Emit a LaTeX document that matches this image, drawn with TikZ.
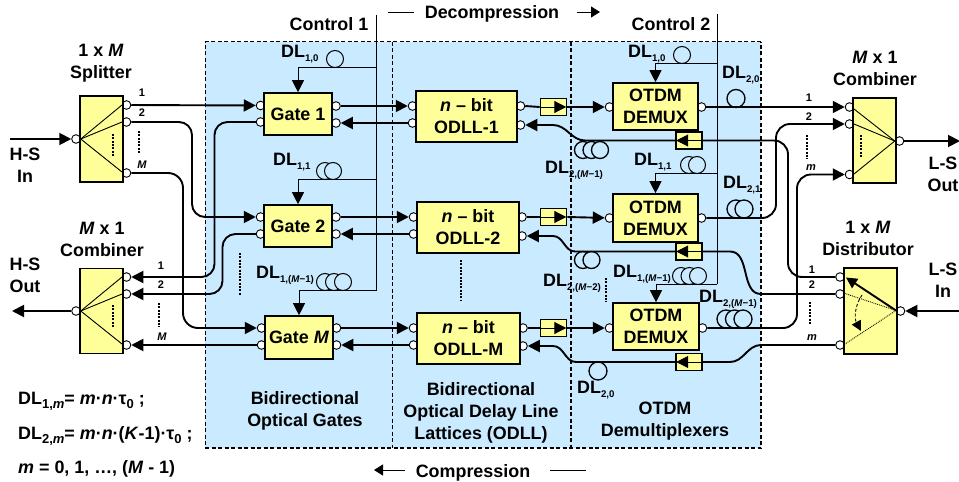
\documentclass[tikz,border=0pt]{standalone}
\usepackage{fontspec}
\setmainfont{Liberation Sans}
\usepackage{tikz}
\usetikzlibrary{arrows.meta}

\definecolor{regionblue}{HTML}{C9EAFF}
\definecolor{boxyellow}{HTML}{FFFF99}
\newcommand{\dlab}[1]{DL\raisebox{-4pt}{\fontsize{9.7}{9.7}\selectfont #1}}
\newcommand{\dlbig}[1]{DL\raisebox{-4pt}{\fontsize{13}{13}\selectfont #1}}
\tikzset{
    big/.style={font=\fontsize{17.9}{22}\selectfont\bfseries,inner sep=0pt,align=center},
    tiny/.style={font=\fontsize{11}{11}\selectfont\bfseries,inner sep=0pt},
    box/.style={draw,line width=1.6pt,fill=boxyellow,big},
    port/.style={draw,circle,fill=white,line width=0.9pt,minimum size=8.6pt,inner sep=0pt},
    isobox/.style={draw,line width=1.6pt,fill=boxyellow,minimum width=26pt,minimum height=17pt,inner sep=0pt},
    conn/.style={line width=1.9pt},
    tip/.style={-{Triangle[length=12pt,width=12pt]}},
    ctl/.style={line width=0.9pt},
    coil/.style={draw=black,fill=regionblue,line width=1.3pt},
    fan/.style={line width=0.9pt},
    dots/.style={line width=2pt,dash pattern=on 2pt off 1.3pt},
    thindots/.style={line width=1.3pt,dash pattern=on 2pt off 1.3pt},
    edge/.style={line width=1pt,dash pattern=on 4pt off 2.5pt},
}

\begin{document}
\begin{tikzpicture}[x=1pt,y=-1pt]
    \useasboundingbox (0,0) rectangle (959,482);

    \fill[regionblue] (205,41.5) rectangle (761,448);
    \draw[edge] (392,41.5)--(392,448);
    \draw[edge,line width=1.4pt] (571,41.5)--(571,448);
    \draw[edge] (761,41.5)--(205,41.5)--(205,448);
    \draw[edge,line width=1.4pt] (205,448)--(761,448)--(761,41.5);

    \coordinate (topA) at (376.5,15);
    \coordinate (midA) at (376.5,67.5);
    \coordinate (midB) at (376.5,179);
    \coordinate (midC) at (376.5,290);
    \coordinate (topB) at (717,14);
    \coordinate (midD) at (717,63);
    \coordinate (midE) at (717,173);
    \coordinate (midF) at (717,284);

    \draw[coil,line width=1pt] (335,59) circle (8.5);
    \draw[coil,line width=1pt] (325,171) circle (8.5);
    \draw[coil,line width=1pt] (333,171) circle (8.5);
    \draw[coil,line width=1pt] (325,282) circle (8.5);
    \draw[coil,line width=1pt] (334,282) circle (8.5);
    \draw[coil,line width=1pt] (343,282) circle (8.5);
    \draw[coil,line width=1pt] (682,55) circle (8.5);
    \draw[coil,line width=1pt] (689,165) circle (8.5);
    \draw[coil,line width=1pt] (697,165) circle (8.5);
    \draw[coil,line width=1pt] (681,276) circle (8.5);
    \draw[coil,line width=1pt] (689.5,276) circle (8.5);
    \draw[coil,line width=1pt] (698,276) circle (8.5);
    \draw[coil] (583,150) circle (8.5);
    \draw[coil] (591.5,150) circle (8.5);
    \draw[coil] (600,150) circle (8.5);
    \draw[coil] (583,260) circle (8.5);
    \draw[coil] (591.5,260) circle (8.5);
    \draw[coil] (598,371) circle (9);
    \draw[coil] (736,98.5) circle (9);
    \draw[coil] (736,209) circle (9);
    \draw[coil] (744,209) circle (9);
    \draw[coil] (726,319) circle (9);
    \draw[coil] (734.5,319) circle (9);
    \draw[coil] (743,319) circle (9);

    % ports go under the boxes
    \node[port] (spin) at (76,139) {};
    \node[port] (spa) at (126.5,105) {};
    \node[port] (spb) at (126.5,122) {};
    \node[port] (spm) at (126.5,173) {};
    \node[port] (cbout) at (76,311) {};
    \node[port] (cba) at (126.5,277) {};
    \node[port] (cbb) at (126.5,294) {};
    \node[port] (cbm) at (126.5,345) {};
    \node[port] (gaa) at (260.5,105.5) {};
    \node[port] (gab) at (260.5,122) {};
    \node[port] (gac) at (336,106) {};
    \node[port] (gad) at (336,123) {};
    \node[port] (gba) at (260.5,217) {};
    \node[port] (gbb) at (260.5,234) {};
    \node[port] (gbc) at (336,217) {};
    \node[port] (gbd) at (336,234) {};
    \node[port] (gma) at (261.5,328) {};
    \node[port] (gmb) at (261.5,345) {};
    \node[port] (gmc) at (336.5,328) {};
    \node[port] (gmd) at (336.5,345) {};
    \node[port] (oaa) at (412.5,106) {};
    \node[port] (oab) at (412.5,123) {};
    \node[port] (oac) at (520.5,106) {};
    \node[port] (oad) at (520.5,125) {};
    \node[port] (oba) at (413.5,217) {};
    \node[port] (obb) at (413.5,234) {};
    \node[port] (obc) at (522,217) {};
    \node[port] (obd) at (522,236) {};
    \node[port] (oma) at (413.5,328) {};
    \node[port] (omb) at (413.5,345) {};
    \node[port] (omc) at (523,328) {};
    \node[port] (omd) at (523,346) {};
    \node[port] (daa) at (609.5,107) {};
    \node[port] (dab) at (701.5,107) {};
    \node[port] (dba) at (609.5,218) {};
    \node[port] (dbb) at (701.5,218) {};
    \node[port] (dma) at (609.5,328) {};
    \node[port] (dmb) at (702.5,328) {};
    \node[port] (mxa) at (849.5,107) {};
    \node[port] (mxb) at (849.5,124) {};
    \node[port] (mxm) at (849.5,174.5) {};
    \node[port] (mxout) at (899.5,141) {};
    \node[port] (dsa) at (840,277) {};
    \node[port] (dsb) at (840,294) {};
    \node[port] (dsm) at (840,345) {};
    \node[port] (dsin) at (900.5,311) {};

    \node[box,minimum width=43pt,minimum height=86pt] (splitter) at (101.5,139) {};
    \node[box,minimum width=43pt,minimum height=85pt] (leftmix) at (101.5,311) {};
    \node[box,minimum width=43pt,minimum height=85pt] (rightmix) at (874.5,140.5) {};
    \node[box,minimum width=53pt,minimum height=86pt] (distrib) at (870.5,311) {};

    \node[box,minimum width=68pt,minimum height=42pt] (gate1) at (298,114) {Gate 1};
    \node[box,minimum width=68pt,minimum height=42pt] (gate2) at (298,226) {Gate 2};
    \node[box,minimum width=68pt,minimum height=43pt] (gatem) at (299,337.5) {Gate \textit{M}};
    \node[box,minimum width=101pt,minimum height=51pt] (odll1) at (466.5,116.5) {\textit{n} – bit\\ODLL-1};
    \node[box,minimum width=102pt,minimum height=51pt] (odll2) at (468,227.5) {\textit{n} – bit\\ODLL-2};
    \node[box,minimum width=103pt,minimum height=51pt] (odllm) at (468.5,338.5) {\textit{n} – bit\\ODLL-M};
    \node[box,minimum width=85pt,minimum height=47pt] (demux1) at (655.5,106.5) {OTDM\\DEMUX};
    \node[box,minimum width=85pt,minimum height=48pt] (demux2) at (655.5,218) {OTDM\\DEMUX};
    \node[box,minimum width=86pt,minimum height=47pt] (demuxm) at (656,326.5) {OTDM\\DEMUX};

    \node[isobox] (isoa) at (553.5,107) {};
    \node[isobox] (isob) at (553.5,217) {};
    \node[isobox] (isoc) at (553.5,328) {};
    \node[isobox] (isod) at (689,140.5) {};
    \node[isobox] (isoe) at (689,251.5) {};
    \node[isobox] (isof) at (689,362) {};

    % control lines
    \draw[ctl] (topA)--(midC);
    \draw[ctl,tip] (midC) -| (gatem.north);
    \draw[ctl,tip] (midA) -| (gate1.north);
    \draw[ctl,tip] (midB) -| (gate2.north);
    \draw[ctl] (topB)--(midF);
    \draw[ctl,tip] (midD) -| (demux1.north);
    \draw[ctl,tip] (midE) -| (demux2.north);
    \draw[ctl,tip] (midF) -| (demuxm.north);

    % fans inside splitter and combiners
    \draw[fan] (spin.east)--(122,105);
    \draw[fan] (spin.east)--(122,122);
    \draw[fan] (spin.east)--(122,172);
    \draw[fan] (cbout.east)--(122,277);
    \draw[fan] (cbout.east)--(122,294);
    \draw[fan] (cbout.east)--(122,344);
    \draw[fan] (mxout.west)--(854,109);
    \draw[fan] (mxout.west)--(854,124);
    \draw[fan] (mxout.west)--(854,174);
    \draw[conn,-{Triangle[length=11pt,width=11pt]}] (896,310.5)--(846,277.5);
    \draw[fan,densely dotted] (896,310.5)--(845,293.5);
    \draw[fan,densely dotted] (896,310.5)--(845,344);
    \draw[ctl,densely dashed,-{Triangle[length=10pt,width=10pt]}] (862,295) .. controls (855,305) and (854,318) .. (861,331);

    \draw[thindots] (113,134)--(113,157);
    \draw[thindots] (113,305)--(113,328);
    \draw[thindots] (861,135)--(861,158);
    \draw[dots] (138.5,131)--(138.5,154);
    \draw[dots] (158.5,303)--(158.5,327);
    \draw[dots] (809.5,302)--(809.5,325);
    \draw[thindots] (240,253)--(240,295);
    \draw[dots] (460.5,260)--(460.5,300);
    \draw[dots] (606,278)--(606,302);
    \draw[thindots] (807,135)--(807,159);

    % free ends and bends
    \coordinate (hsin) at (10,139);
    \coordinate (hsout) at (12,311);
    \coordinate (lsout) at (960,141);
    \coordinate (lsin) at (959,311);
    \coordinate (bendA) at (192,170);
    \coordinate (bendB) at (183,250);
    \coordinate (bendC) at (214.5,200);
    \coordinate (bendD) at (222.5,265);
    \coordinate (bendE) at (776,170);
    \coordinate (bendF) at (797,250);
    \coordinate (bendG) at (788,210);
    \coordinate (curveA) at (585,140.5);
    \coordinate (curveB) at (553,125);
    \coordinate (curveC) at (575,251.5);
    \coordinate (curveD) at (553,236);
    \coordinate (curveE) at (576,362);
    \coordinate (curveF) at (553,346);
    \coordinate (curveG) at (761,294);
    \coordinate (curveH) at (730,251.5);
    \coordinate (curveI) at (761,345);
    \coordinate (curveJ) at (730,362);

    \draw[conn,tip] (hsin)--(spin);
    \draw[conn,tip] (cbout)--(hsout);
    \draw[conn,tip] (mxout)--(lsout);
    \draw[conn,tip] (lsin)--(dsin);

    \draw[conn,tip] (spa)--(gaa);
    \draw[conn,tip,rounded corners=13pt] (spb.east) -| (bendA) |- (gba.west);
    \draw[conn,tip,rounded corners=15pt] (spm.east) -| (bendB) |- (gma.west);
    \draw[conn,tip,rounded corners=13pt] (gab.west) -| (bendC) |- (cba.east);
    \draw[conn,tip,rounded corners=13pt] (gbb.west) -| (bendD) |- (cbb.east);
    \draw[conn,tip] (gmb)--(cbm);

    \draw[conn,tip] (gac)--(oaa);
    \draw[conn,tip] (oab)--(gad);
    \draw[conn,tip] (gbc)--(oba);
    \draw[conn,tip] (obb)--(gbd);
    \draw[conn,tip] (gmc)--(oma);
    \draw[conn,tip] (omb)--(gmd);

    \draw[conn] (oac.east)--(isoa.west);
    \draw[conn,tip] (isoa.east)--(daa);
    \draw[conn] (obc.east)--(isob.west);
    \draw[conn,tip] (isob.east)--(dba);
    \draw[conn] (omc.east)--(isoc.west);
    \draw[conn,tip] (isoc.east)--(dma);
    \draw[ctl,tip,shorten >=1pt] (isoa.west)--(isoa.east);
    \draw[ctl,tip,shorten >=1pt] (isob.west)--(isob.east);
    \draw[ctl,tip,shorten >=1pt] (isoc.west)--(isoc.east);

    \draw[conn,tip] (dab)--(mxa);
    \draw[conn,tip,rounded corners=14pt] (dbb.east) -| (bendE) |- (mxb.west);
    \draw[conn,tip,rounded corners=14pt] (dmb.east) -| (bendF) |- (mxm.west);

    \draw[conn,rounded corners=14pt] (dsa.west) -| (bendG) |- (isod.east);
    \draw[conn] (dsb.west)--(curveG) to[out=180,in=0] (curveH)--(isoe.east);
    \draw[conn] (dsm.west)--(curveI) to[out=180,in=0] (curveJ)--(isof.east);
    \draw[ctl,tip,shorten >=1pt] (isod.east)--(isod.west);
    \draw[ctl,tip,shorten >=1pt] (isoe.east)--(isoe.west);
    \draw[ctl,tip,shorten >=1pt] (isof.east)--(isof.west);
    \draw[conn,tip] (isod.west)--(curveA) to[out=180,in=0] (curveB)--(oad);
    \draw[conn,tip] (isoe.west)--(curveC) to[out=180,in=0] (curveD)--(obd);
    \draw[conn,tip] (isof.west)--(curveE) to[out=180,in=0] (curveF)--(omd);

    % compression and decompression marks
    \coordinate (decA) at (388,12);
    \coordinate (decB) at (414,12);
    \coordinate (decC) at (577,12);
    \coordinate (decD) at (600,12);
    \coordinate (comA) at (405,470);
    \coordinate (comB) at (374,470);
    \coordinate (comC) at (550,470);
    \coordinate (comD) at (586,470);
    \draw[ctl] (decA)--(decB);
    \draw[ctl,-{Triangle[length=9pt,width=11pt]}] (decC)--(decD);
    \draw[ctl,-{Triangle[length=9pt,width=11pt]}] (comA)--(comB);
    \draw[ctl] (comC)--(comD);

    % labels
    \node[big] (ctla) at (329,24) {Control 1};
    \node[big] (ctlb) at (671,24) {Control 2};
    \node[big] (decomp) at (492,14) {Decompression};
    \node[big] (comp) at (473,473) {Compression};
    \node[big] (spltxt) at (101,63) {1 x \textit{M}\\Splitter};
    \node[big] (cbtxt) at (102,239) {\textit{M} x 1\\Combiner};
    \node[big] (mxtxt) at (875,68) {\textit{M} x 1\\Combiner};
    \node[big] (dstxt) at (868,238) {1 x \textit{M}\\Distributor};
    \node[big] (hsa) at (25,165.5) {H-S\\In};
    \node[big] (hsb) at (25,275.5) {H-S\\Out};
    \node[big] (lsa) at (943,174) {L-S\\Out};
    \node[big] (lsb) at (943,280) {L-S\\In};
    \node[big] (reggate) at (305,411) {Bidirectional\\Optical Gates};
    \node[big] (regodll) at (481,412.5) {Bidirectional\\Optical Delay Line\\Lattices (ODLL)};
    \node[big] (regdemux) at (665,421) {OTDM\\Demultiplexers};

    \node[tiny] (numa) at (142,93) {1};
    \node[tiny] (numb) at (142,113) {2};
    \node[tiny] (numc) at (142,165) {\textit{M}};
    \node[tiny] (numd) at (161,266) {1};
    \node[tiny] (nume) at (161,285) {2};
    \node[tiny] (numf) at (162,337) {\textit{M}};
    \node[tiny] (numg) at (809,98) {1};
    \node[tiny] (numh) at (809,117) {2};
    \node[tiny] (numi) at (811,168) {\textit{m}};
    \node[tiny] (numj) at (812,270) {1};
    \node[tiny] (numk) at (812,285) {2};
    \node[tiny] (numl) at (812,338) {\textit{m}};

    \node[big,anchor=base west] (dla) at (281,57) {\dlab{1,0}};
    \node[big,anchor=base west] (dlb) at (273,165) {\dlab{1,1}};
    \node[big,anchor=base west] (dlc) at (256,278) {\dlab{1,(\textit{M}−1)}};
    \node[big,anchor=base west] (dld) at (628,57) {\dlab{1,0}};
    \node[big,anchor=base west] (dle) at (634,165) {\dlab{1,1}};
    \node[big,anchor=base west] (dlf) at (613,277) {\dlab{1,(\textit{M}−1)}};
    \node[big,anchor=base west] (dlg) at (722,78) {\dlab{2,0}};
    \node[big,anchor=base west] (dlh) at (723,188) {\dlab{2,1}};
    \node[big,anchor=base west] (dli) at (699,302) {\dlab{2,(\textit{M}−1)}};
    \node[big,anchor=base west] (dlj) at (545,173) {\dlab{2,(\textit{M}−1)}};
    \node[big,anchor=base west] (dlk) at (543,286) {\dlab{2,(\textit{M}−2)}};
    \node[big,anchor=base west] (dll) at (577,393) {\dlab{2,0}};

    \node[big,anchor=base west] (eqa) at (18,404) {\dlbig{1,\textit{m}}= \textit{m}·\textit{n}·τ\raisebox{-4pt}{\fontsize{13}{13}\selectfont 0} ;};
    \node[big,anchor=base west] (eqb) at (18,439) {\dlbig{2,\textit{m}}= \textit{m}·\textit{n}·(\textit{K}-1)·τ\raisebox{-4pt}{\fontsize{13}{13}\selectfont 0} ;};
    \node[big,anchor=base west] (eqc) at (18,473) {\textit{m} = 0, 1, …, (\textit{M} - 1)};
\end{tikzpicture}
\end{document}
